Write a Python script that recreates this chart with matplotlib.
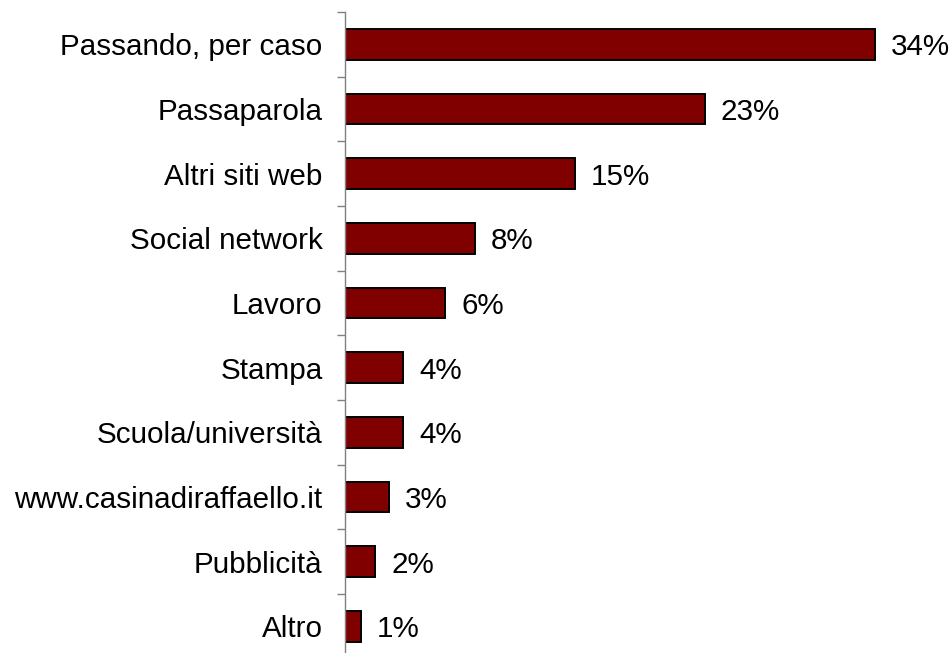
import matplotlib
matplotlib.use("Agg")
import matplotlib.pyplot as plt
import numpy as np

# Categories top to bottom, values in percent (bar lengths)
categories = [
    "Passando, per caso",
    "Passaparola",
    "Altri siti web",
    "Social network",
    "Lavoro",
    "Stampa",
    "Scuola/università",
    "www.casinadiraffaello.it",
    "Pubblicità",
    "Altro",
]
values = [33.9, 23.0, 14.7, 8.3, 6.4, 3.7, 3.7, 2.8, 1.9, 1.0]
value_labels = ["34%", "23%", "15%", "8%", "6%", "4%", "4%", "3%", "2%", "1%"]

plt.rcParams["font.family"] = ["Liberation Sans", "DejaVu Sans"]

fig = plt.figure(figsize=(9.53, 6.53), dpi=100)
ax = fig.add_axes([0.3625, -0.0087, 0.6375, 0.9903])

y = np.arange(len(categories))
ax.barh(y, values, height=0.47, color="#800000", edgecolor="black", linewidth=1.4)

for yi, v, lab in zip(y, values, value_labels):
    ax.annotate(lab, (v, yi), xytext=(11.5, 0), textcoords="offset points",
                va="center_baseline", ha="left", fontsize=21.3, color="black")

ax.set_xlim(0, 38.9)
ax.set_ylim(len(categories) - 0.5, -0.5)

ax.set_yticks(y)
ax.set_yticklabels(categories, fontsize=21.3)
ax.tick_params(axis="y", which="major", length=0, pad=16.5)
ax.set_yticks(np.arange(len(categories) + 1) - 0.5, minor=True)
ax.tick_params(axis="y", which="minor", length=6, width=1, color="#808080", direction="out")

ax.set_xticks([])
for side in ("top", "right", "bottom"):
    ax.spines[side].set_visible(False)
ax.spines["left"].set_color("#808080")
ax.spines["left"].set_linewidth(1)

fig.savefig("out.png", dpi=100)
